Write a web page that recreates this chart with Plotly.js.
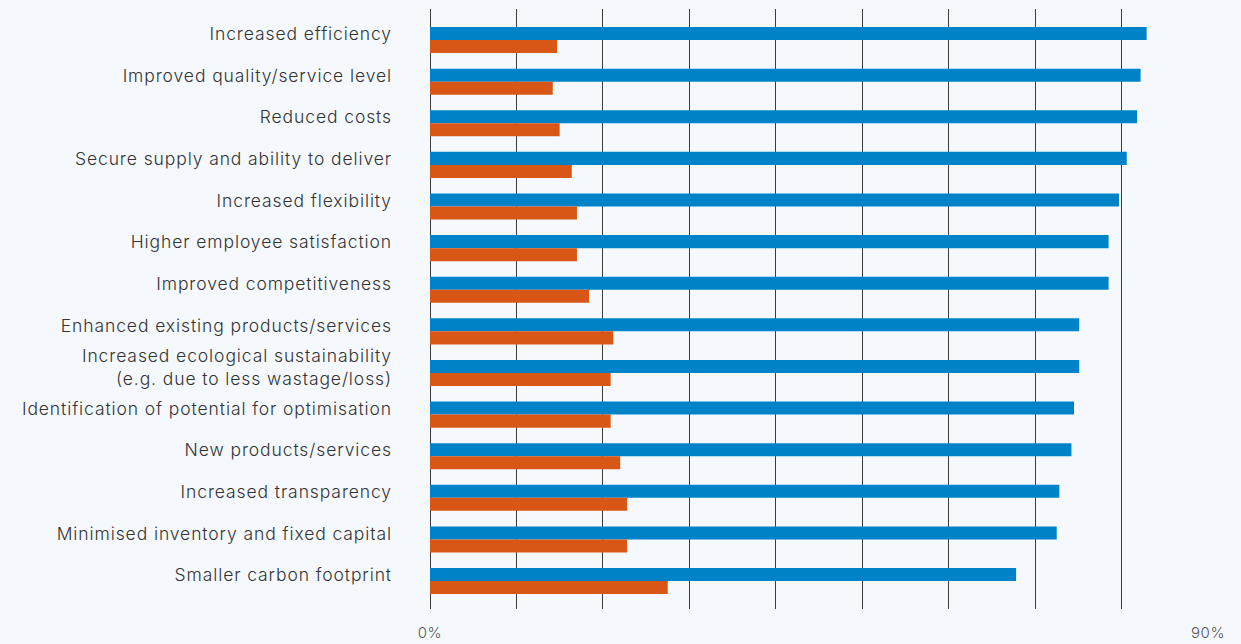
<!DOCTYPE html>
<html>
<head>
<meta charset="utf-8">
<script src="https://cdn.plot.ly/plotly-3.0.1.min.js"></script>
<style>
html,body{margin:0;padding:0;background:#F5F9FE;}
#chart{width:1241px;height:644px;}
#chart .y2tick text, #chart .ytick text{letter-spacing:0.9px;}
#chart .xtick text{letter-spacing:0.6px;}
</style>
</head>
<body>
<div id="chart"></div>
<script>
const categories = [
  "Increased efficiency",
  "Improved quality/service level",
  "Reduced costs",
  "Secure supply and ability to deliver",
  "Increased flexibility",
  "Higher employee satisfaction",
  "Improved competitiveness",
  "Enhanced existing products/services",
  "Increased ecological sustainability<br>(e.g. due to less wastage/loss)",
  "Identification of potential for optimisation",
  "New products/services",
  "Increased transparency",
  "Minimised inventory and fixed capital",
  "Smaller carbon footprint"
];
const blueValues = [82.9, 82.2, 81.8, 80.6, 79.7, 78.5, 78.5, 75.1, 75.1, 74.5, 74.2, 72.8, 72.5, 67.8];
const orangeValues = [14.7, 14.2, 15.0, 16.4, 17.0, 17.0, 18.4, 21.2, 20.9, 20.9, 22.0, 22.8, 22.8, 27.5];
const tickValues = [0, 10, 20, 30, 40, 50, 60, 70, 80, 90];
const tickLabels = ["0%", "", "", "", "", "", "", "", "", "90%"];

const traces = [
  {type: "bar", orientation: "h", y: categories, x: blueValues, marker: {color: "#0082C8"}, hoverinfo: "x+y", showlegend: false},
  {type: "bar", orientation: "h", y: categories, x: orangeValues, marker: {color: "#D95716"}, hoverinfo: "x+y", showlegend: false},
  // invisible carrier trace for the label axis
  {type: "scatter", mode: "markers", y: categories, x: blueValues, yaxis: "y2", marker: {opacity: 0}, hoverinfo: "skip", showlegend: false}
];
const labelFont = {family: "Inter, sans-serif", size: 17.5, color: "#333", weight: 300};
const layout = {
  width: 1241, height: 644,
  paper_bgcolor: "#F5F9FE", plot_bgcolor: "#F5F9FE",
  margin: {l: 430, r: 33, t: 9, b: 35},
  barmode: "group", bargap: 0.375, bargroupgap: 0,
  font: {family: "Inter, sans-serif", color: "#333", weight: 300},
  xaxis: {
    range: [0, 90], tickvals: tickValues, ticktext: tickLabels,
    showgrid: true, gridcolor: "#3c3c3c", gridwidth: 1,
    zeroline: true, zerolinecolor: "#3c3c3c", zerolinewidth: 1,
    showline: false, ticks: "",
    tickfont: {family: "Inter, sans-serif", size: 15, color: "#555", weight: 300}, ticklabelstandoff: 13, layer: "above traces"
  },
  yaxis: {
    type: "category", categoryarray: categories, range: [13.67, -0.745],
    showgrid: false, zeroline: false, showline: false, ticks: "",
    showticklabels: false
  },
  yaxis2: {
    type: "category", categoryarray: categories, overlaying: "y", side: "left",
    range: [13.67 + 0.144, -0.745 + 0.144],
    showgrid: false, zeroline: false, showline: false, ticks: "",
    tickfont: labelFont, ticklabelstandoff: 37
  }
};
Plotly.newPlot("chart", traces, layout, {displayModeBar: false, staticPlot: true});
</script>
</body>
</html>
